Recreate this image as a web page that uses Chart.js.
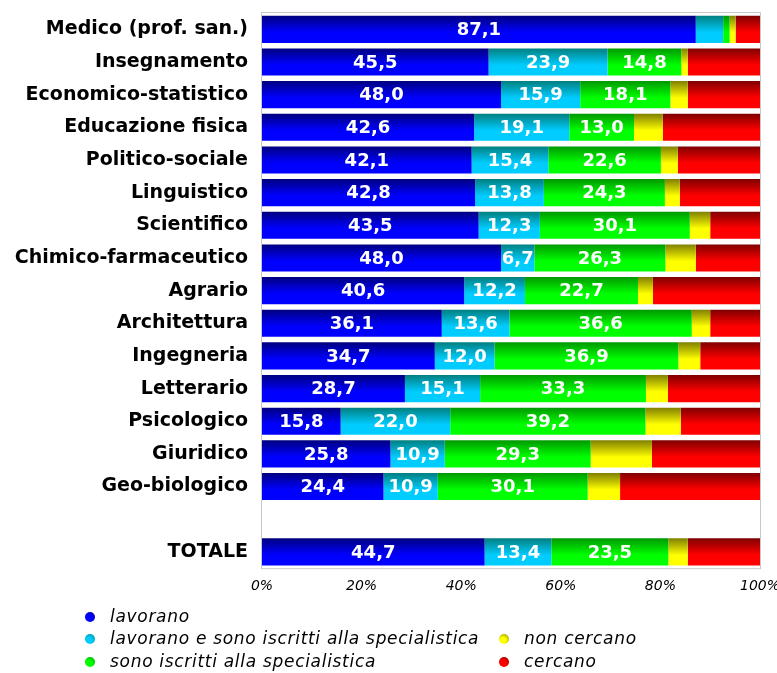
<!DOCTYPE html>
<html>
<head>
<meta charset="utf-8">
<script src="https://cdn.jsdelivr.net/npm/chart.js@4.4.0/dist/chart.umd.min.js"></script>
<style>
  html, body { margin: 0; padding: 0; background: #fff; }
  #wrap { position: relative; width: 777px; height: 673px; }
  canvas { display: block; }
  #legend { position: absolute; left: 0; top: 0; font-family: "DejaVu Sans", Verdana, sans-serif; font-style: italic; font-size: 17px; letter-spacing: 0.7px; color: #000; }
  .li { position: absolute; white-space: nowrap; line-height: 20px; }
  .dot { position: absolute; width: 10px; height: 10px; border-radius: 50%; }
</style>
</head>
<body>
<div id="wrap">
  <canvas id="chart" width="777" height="673"></canvas>
  <div id="legend"></div>
</div>
<script>
// === DATA ===
const categories = ['Medico (prof. san.)', 'Insegnamento', 'Economico-statistico', 'Educazione fisica',
  'Politico-sociale', 'Linguistico', 'Scientifico', 'Chimico-farmaceutico', 'Agrario', 'Architettura',
  'Ingegneria', 'Letterario', 'Psicologico', 'Giuridico', 'Geo-biologico', '', 'TOTALE'];
const lavorano    = [87.1, 45.5, 48.0, 42.6, 42.1, 42.8, 43.5, 48.0, 40.6, 36.1, 34.7, 28.7, 15.8, 25.8, 24.4, null, 44.7];
const lavIscritti = [5.5, 23.9, 15.9, 19.1, 15.4, 13.8, 12.3, 6.7, 12.2, 13.6, 12.0, 15.1, 22.0, 10.9, 10.9, null, 13.4];
const iscritti    = [1.3, 14.8, 18.1, 13.0, 22.6, 24.3, 30.1, 26.3, 22.7, 36.6, 36.9, 33.3, 39.2, 29.3, 30.1, null, 23.5];
const nonCercano  = [1.2, 1.3, 3.5, 5.8, 3.4, 3.0, 4.1, 6.1, 3.0, 3.7, 4.4, 4.4, 7.1, 12.3, 6.5, null, 3.9];
const cercano     = [4.9, 14.5, 14.5, 19.5, 16.5, 16.1, 10.0, 12.9, 21.5, 10.0, 12.0, 18.5, 15.9, 21.7, 28.1, null, 14.5];
const xTicks = [0, 20, 40, 60, 80, 100];

const FONT = '"DejaVu Sans", Verdana, sans-serif';
const BAR_PCT = 0.83;

// vertical gradient per bar: dark on top, bright below
function shade(dark, light) {
  return function (c) {
    const chart = c.chart;
    const ys = chart.scales.y;
    if (!ys || !chart.chartArea) return light;
    const y = ys.getPixelForValue(c.dataIndex);
    const h = ys.height / categories.length * BAR_PCT;
    const g = chart.ctx.createLinearGradient(0, y - h / 2, 0, y + h / 2);
    g.addColorStop(0, dark);
    g.addColorStop(0.62, light);
    g.addColorStop(1, light);
    return g;
  };
}

const series = [
  { label: 'lavorano', data: lavorano, dark: '#000080', light: '#0000ff', labelled: true },
  { label: 'lavorano e sono iscritti alla specialistica', data: lavIscritti, dark: '#008080', light: '#00ccff', labelled: true },
  { label: 'sono iscritti alla specialistica', data: iscritti, dark: '#009900', light: '#00ff00', labelled: true },
  { label: 'non cercano', data: nonCercano, dark: '#808000', light: '#ffff00', labelled: false },
  { label: 'cercano', data: cercano, dark: '#800000', light: '#ff0000', labelled: false }
];

// === PLUGINS ===
const frame = {
  id: 'frame',
  beforeDatasetsDraw(chart) {
    const a = chart.chartArea, ctx = chart.ctx;
    ctx.save();
    ctx.strokeStyle = '#c8c8c8';
    ctx.lineWidth = 1;
    ctx.strokeRect(a.left - 0.5, a.top - 0.5, a.right - a.left + 1, a.bottom - a.top + 1);
    ctx.restore();
  }
};

const valueLabels = {
  id: 'valueLabels',
  afterDatasetsDraw(chart) {
    const ctx = chart.ctx;
    ctx.save();
    ctx.font = 'bold 18px ' + FONT;
    ctx.fillStyle = '#fff';
    ctx.textAlign = 'center';
    ctx.textBaseline = 'middle';
    chart.data.datasets.forEach((ds, di) => {
      if (!series[di].labelled) return;
      chart.getDatasetMeta(di).data.forEach((bar, i) => {
        const v = ds.data[i];
        if (v == null || v < 6) return;
        const cx = (bar.x + bar.base) / 2;
        ctx.fillText(v.toFixed(1).replace('.', ','), cx, bar.y + 1);
      });
    });
    ctx.restore();
  }
};

// === CHART ===
new Chart(document.getElementById('chart'), {
  type: 'bar',
  data: {
    labels: categories,
    datasets: series.map(s => ({
      label: s.label,
      data: s.data,
      backgroundColor: shade(s.dark, s.light),
      borderWidth: 0,
      barPercentage: BAR_PCT,
      categoryPercentage: 1
    }))
  },
  options: {
    indexAxis: 'y',
    responsive: false,
    animation: false,
    layout: { padding: { top: 13, right: 17, bottom: 68, left: 0 } },
    plugins: { legend: { display: false }, tooltip: { enabled: false } },
    scales: {
      x: {
        stacked: true, min: 0, max: 100,
        afterBuildTicks: s => { s.ticks = xTicks.map(v => ({ value: v })); },
        afterFit: s => { s.paddingLeft = 0; s.paddingRight = 0; },
        grid: { display: false, drawTicks: false },
        border: { display: false },
        ticks: { padding: 10, color: '#000', font: { family: FONT, size: 14, style: 'italic' }, callback: v => v + '%' }
      },
      y: {
        stacked: true,
        afterFit: s => { s.width = 262; s.paddingTop = 0; s.paddingBottom = 0; },
        grid: { display: false, drawTicks: false },
        border: { display: false },
        ticks: { padding: 14, color: '#000', autoSkip: false, font: { family: FONT, size: 19, weight: 'bold' } }
      }
    }
  },
  plugins: [frame, valueLabels]
});

// === LEGEND ===
const legendPos = [
  { i: 0, x: 90, y: 617 },
  { i: 1, x: 90, y: 639 },
  { i: 2, x: 90, y: 662 },
  { i: 3, x: 504, y: 639 },
  { i: 4, x: 504, y: 662 }
];
const legend = document.getElementById('legend');
legendPos.forEach(p => {
  const s = series[p.i];
  const dot = document.createElement('span');
  dot.className = 'dot';
  dot.style.left = (p.x - 5) + 'px';
  dot.style.top = (p.y - 5) + 'px';
  dot.style.background = `radial-gradient(circle at 40% 65%, ${s.light} 0%, ${s.light} 35%, ${s.dark} 100%)`;
  legend.appendChild(dot);
  const t = document.createElement('span');
  t.className = 'li';
  t.style.left = (p.x + 20) + 'px';
  t.style.top = (p.y - 11) + 'px';
  t.textContent = s.label;
  legend.appendChild(t);
});
</script>
</body>
</html>
